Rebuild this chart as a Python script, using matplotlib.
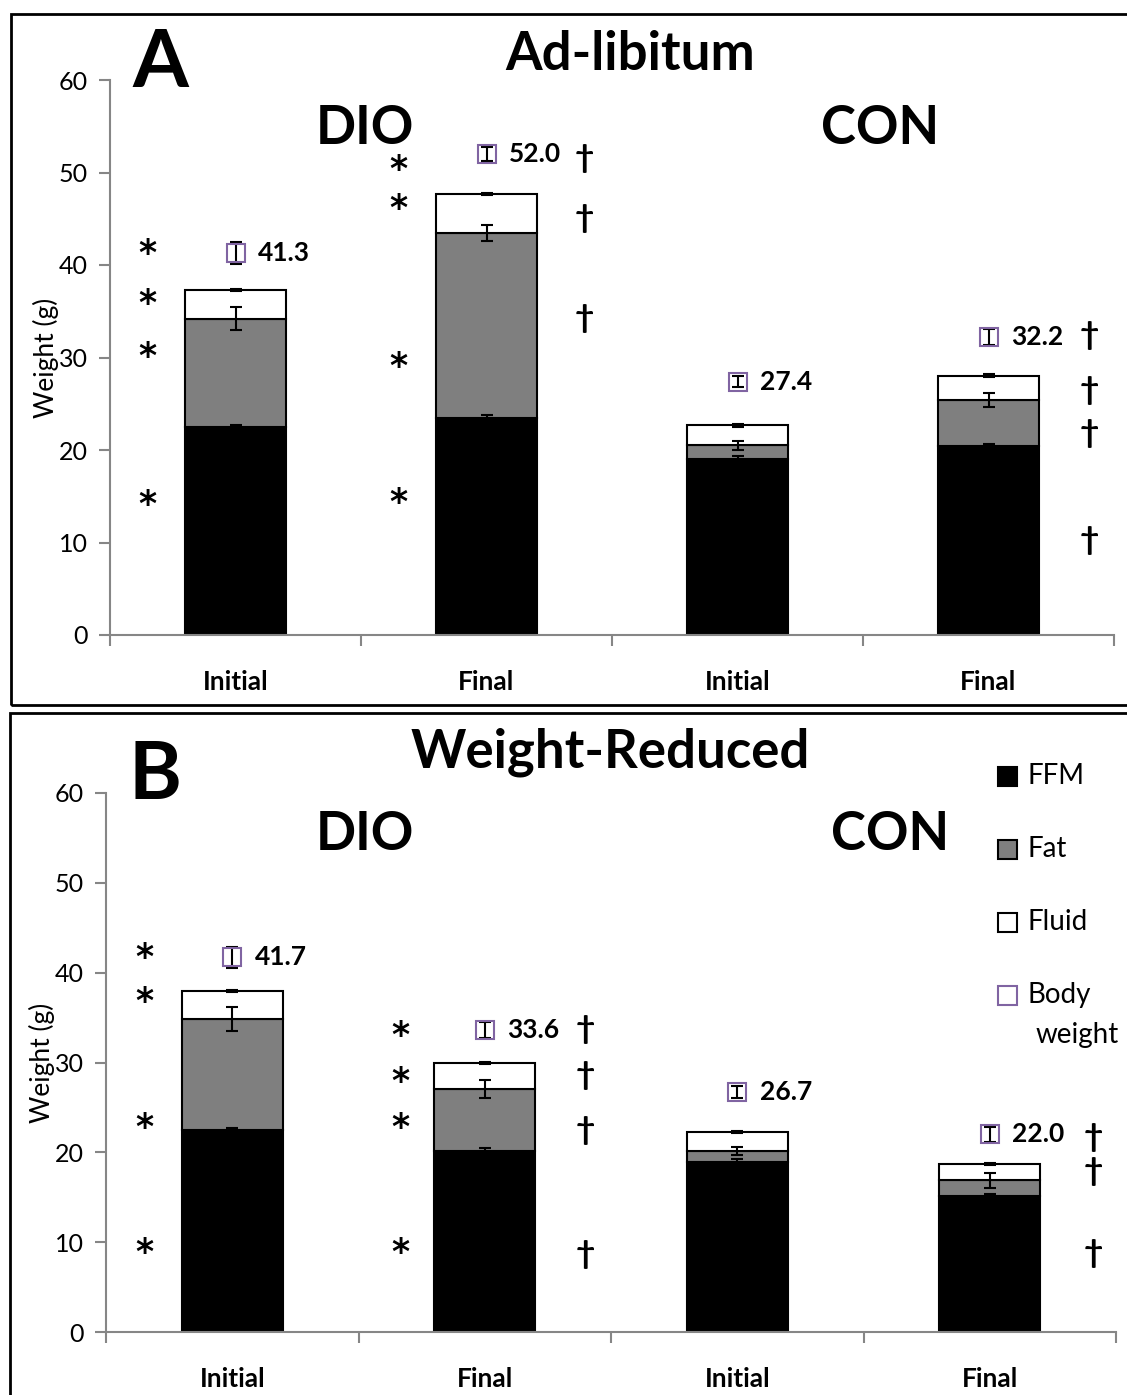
import numpy as np
import matplotlib
matplotlib.use("Agg")
import matplotlib.pyplot as plt
from matplotlib.patches import Rectangle

plt.rcParams['font.family'] = ['Lato', 'DejaVu Sans']

# 数据 (g)
groups = ['Initial', 'Final', 'Initial', 'Final']

ffm_a = [22.5, 23.5, 19.05, 20.4]
fat_a = [11.7, 19.95, 1.45, 5.0]
fluid_a = [3.1, 4.2, 2.15, 2.65]
ffm_err_a = [0.2, 0.3, 0.25, 0.2]
fat_err_a = [1.25, 0.9, 0.5, 0.8]
fluid_err_a = [0.12, 0.12, 0.12, 0.12]
bw_a = [41.3, 52.0, 27.4, 32.2]
bw_err_a = [1.2, 0.8, 0.6, 0.9]

ffm_b = [22.5, 20.15, 18.95, 15.1]
fat_b = [12.35, 6.9, 1.2, 1.8]
fluid_b = [3.15, 2.9, 2.15, 1.8]
ffm_err_b = [0.2, 0.3, 0.3, 0.3]
fat_err_b = [1.3, 1.0, 0.45, 0.85]
fluid_err_b = [0.12, 0.12, 0.12, 0.12]
bw_b = [41.7, 33.6, 26.7, 22.0]
bw_err_b = [1.2, 0.9, 0.7, 0.8]

# 显著性标记 (x, y, 符号)
marks_a = [(0.147, 41.2, '*'), (0.147, 35.8, '*'), (0.147, 30.1, '*'), (0.147, 14.0, '*'),
           (1.147, 50.3, '*'), (1.147, 46.0, '*'), (1.147, 29.0, '*'), (1.147, 14.3, '*'),
           (1.89, 51.5, '†'), (1.89, 45.0, '†'), (1.89, 34.2, '†'),
           (3.90, 32.4, '†'), (3.90, 26.4, '†'), (3.90, 21.8, '†'), (3.90, 10.2, '†')]
marks_b = [(0.154, 41.6, '*'), (0.154, 36.7, '*'), (0.154, 22.7, '*'), (0.154, 8.8, '*'),
           (1.164, 32.9, '*'), (1.164, 27.8, '*'), (1.164, 22.7, '*'), (1.164, 8.8, '*'),
           (1.90, 33.7, '†'), (1.90, 28.6, '†'), (1.90, 22.4, '†'), (1.90, 8.6, '†'),
           (3.91, 21.7, '†'), (3.91, 17.9, '†'), (3.91, 8.7, '†')]

W, H = 1127, 1395
GRAY = '#868686'
PURPLE = '#8064a2'


def draw_panel(ax, ffm, fat, fluid, ffm_err, fat_err, fluid_err, bw, bw_err, marks):
    x = np.arange(len(groups)) + 0.5
    ffm = np.array(ffm)
    fat = np.array(fat)
    fluid = np.array(fluid)
    w = 0.4
    ax.bar(x, ffm, w, color='black', edgecolor='black', linewidth=1.5, zorder=2)
    ax.bar(x, fat, w, bottom=ffm, color='#7f7f7f', edgecolor='black', linewidth=1.5, zorder=2)
    ax.bar(x, fluid, w, bottom=ffm + fat, color='white', edgecolor='black', linewidth=1.5, zorder=2)

    kw = dict(fmt='none', ecolor='black', elinewidth=1.5, capsize=4.5, capthick=1.5, zorder=3)
    ax.errorbar(x, ffm, yerr=ffm_err, **kw)
    ax.errorbar(x, ffm + fat, yerr=fat_err, **kw)
    ax.errorbar(x, ffm + fat + fluid, yerr=fluid_err, **kw)

    # 体重
    ax.errorbar(x, bw, yerr=bw_err, **kw)
    ax.plot(x, bw, ls='none', marker='s', markersize=13, markerfacecolor='none',
            markeredgecolor=PURPLE, markeredgewidth=1.5, zorder=4)
    for xi, v in zip(x, bw):
        ax.text(xi + 0.09, v, f'{v:.1f}', ha='left', va='center',
                fontsize=19, fontweight='bold')

    for mx, my, s in marks:
        if s == '*':
            ax.text(mx, my, s, ha='center', va='center', fontsize=25,
                    family=['DejaVu Sans'], fontweight='bold')
        else:
            ax.text(mx, my, s, ha='center', va='center', fontsize=24, fontweight='bold')

    ax.set_xlim(0, 4)
    ax.set_ylim(0, 60)
    ax.set_yticks(np.arange(0, 61, 10))
    ax.tick_params(axis='y', labelsize=18, length=8, color=GRAY, width=1.5, pad=8)
    ax.set_xticks(np.arange(0, 5))
    ax.set_xticklabels([])
    ax.set_xticks(x, minor=True)
    ax.set_xticklabels(groups, minor=True, fontsize=19, fontweight='bold')
    ax.tick_params(axis='x', which='major', length=8, color=GRAY, width=1.5)
    ax.tick_params(axis='x', which='minor', length=0, pad=25)
    for s in ['top', 'right']:
        ax.spines[s].set_visible(False)
    for s in ['left', 'bottom']:
        ax.spines[s].set_color(GRAY)
        ax.spines[s].set_linewidth(1.5)
    ax.set_ylabel('Weight (g)', fontsize=19, labelpad=0)


fig = plt.figure(figsize=(W / 100, H / 100), dpi=100)

# 外框
fig.patches.append(Rectangle((11 / W, 1 - 705 / H), 1.2, (705 - 14) / H, transform=fig.transFigure,
                             fill=False, edgecolor='black', linewidth=2))
fig.patches.append(Rectangle((10 / W, -0.1), 1.2, 0.1 + 1 - 713 / H, transform=fig.transFigure,
                             fill=False, edgecolor='black', linewidth=2))

ax_a = fig.add_axes([110 / W, (H - 635) / H, 1004 / W, 555 / H])
draw_panel(ax_a, ffm_a, fat_a, fluid_a, ffm_err_a, fat_err_a, fluid_err_a, bw_a, bw_err_a, marks_a)

ax_b = fig.add_axes([106 / W, (H - 1332) / H, 1010 / W, 539 / H])
draw_panel(ax_b, ffm_b, fat_b, fluid_b, ffm_err_b, fat_err_b, fluid_err_b, bw_b, bw_err_b, marks_b)


def ftext(px, py, s, size):
    fig.text(px / W, 1 - py / H, s, ha='center', va='center', fontsize=size, fontweight='bold')


ftext(160, 64, 'A', 58)
ftext(630, 55, 'Ad-libitum', 38)
ftext(365, 128, 'DIO', 38)
ftext(880, 128, 'CON', 38)
ftext(155, 776, 'B', 58)
ftext(610, 752, 'Weight-Reduced', 38)
ftext(365, 835, 'DIO', 38)
ftext(890, 835, 'CON', 38)

# 图例
leg = [('FFM', 'black', 'black'), ('Fat', '#7f7f7f', 'black'),
       ('Fluid', 'white', 'black'), ('Body\nweight', 'white', PURPLE)]
for i, (lab, fc, ec) in enumerate(leg):
    cy = 776 + 73 * i
    fig.patches.append(Rectangle((998 / W, 1 - (cy + 10) / H), 19 / W, 19 / H,
                                 transform=fig.transFigure, facecolor=fc, edgecolor=ec, linewidth=1.5))
    if '\n' in lab:
        fig.text(1028 / W, 1 - cy / H, 'Body', ha='left', va='center', fontsize=20)
        fig.text(1036 / W, 1 - (cy + 40) / H, 'weight', ha='left', va='center', fontsize=20)
    else:
        fig.text(1028 / W, 1 - cy / H, lab, ha='left', va='center', fontsize=20)

fig.savefig('out.png', dpi=100)
